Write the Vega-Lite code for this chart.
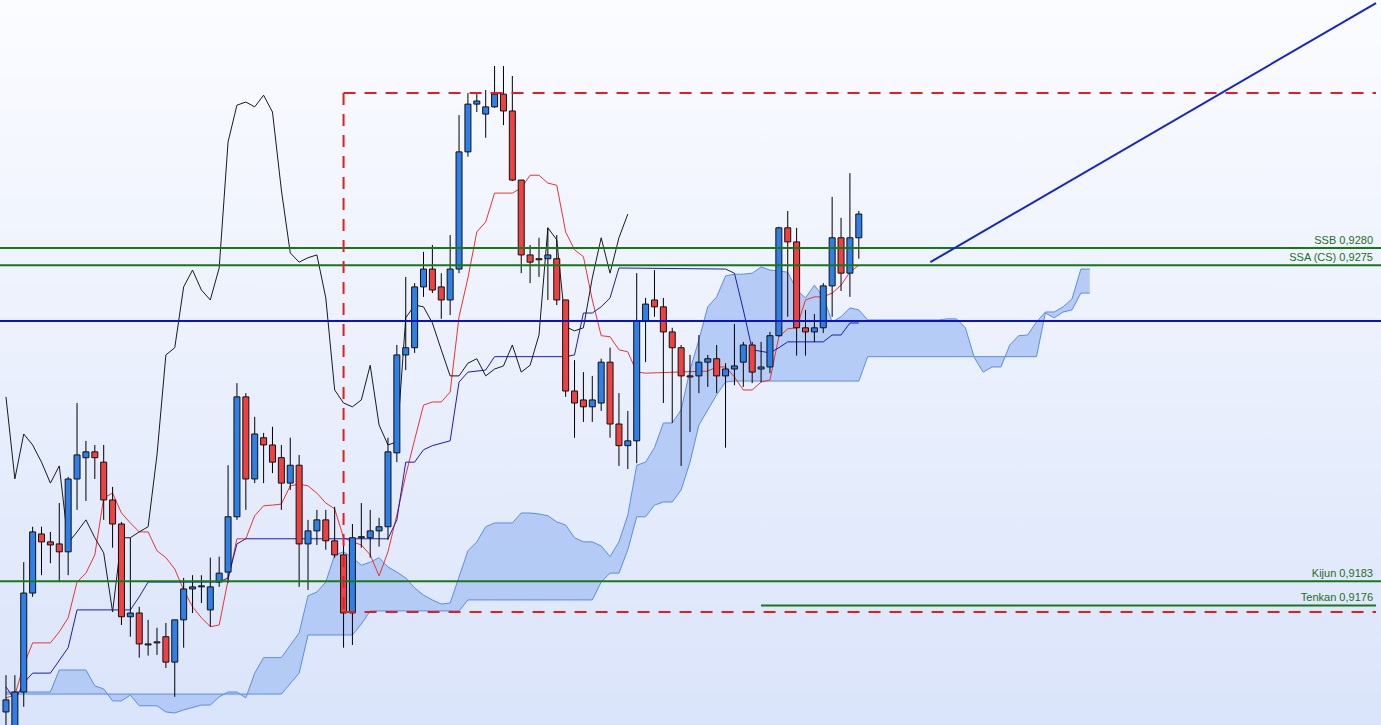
{
 "$schema": "https://vega.github.io/schema/vega-lite/v6.json",
 "width": 1381, "height": 725,
 "autosize": {"type": "fit", "contains": "padding"},
 "padding": 0,
 "background": "#eaf0fc",
 "config": {"view": {"stroke": null, "fill": {"gradient": "linear", "x1": 0, "y1": 0, "x2": 0, "y2": 1, "stops": [{"offset": 0, "color": "#fbfcff"}, {"offset": 1, "color": "#dae4fa"}]}}},
 "datasets": {
  "candles": [
   {"i":0,"o":0.91450,"h":0.91557,"l":0.91383,"c":0.91485},
   {"i":1,"o":0.91369,"h":0.91557,"l":0.91354,"c":0.91508},
   {"i":2,"o":0.91508,"h":0.91886,"l":0.91465,"c":0.91796},
   {"i":3,"o":0.91796,"h":0.91989,"l":0.91785,"c":0.91974},
   {"i":4,"o":0.91968,"h":0.91989,"l":0.91848,"c":0.91945},
   {"i":5,"o":0.91945,"h":0.91974,"l":0.91883,"c":0.91936},
   {"i":6,"o":0.91939,"h":0.92058,"l":0.91828,"c":0.91916},
   {"i":7,"o":0.91916,"h":0.92134,"l":0.91848,"c":0.92128},
   {"i":8,"o":0.92128,"h":0.92349,"l":0.92038,"c":0.92198},
   {"i":9,"o":0.92190,"h":0.92239,"l":0.92064,"c":0.92207},
   {"i":10,"o":0.92207,"h":0.92227,"l":0.92128,"c":0.92190},
   {"i":11,"o":0.92177,"h":0.92227,"l":0.92009,"c":0.92067},
   {"i":12,"o":0.92067,"h":0.92105,"l":0.91928,"c":0.91997},
   {"i":13,"o":0.91997,"h":0.92003,"l":0.91703,"c":0.91727},
   {"i":14,"o":0.91727,"h":0.91957,"l":0.91669,"c":0.91738},
   {"i":15,"o":0.91738,"h":0.91756,"l":0.91608,"c":0.91648},
   {"i":16,"o":0.91648,"h":0.91718,"l":0.91614,"c":0.91645},
   {"i":17,"o":0.91654,"h":0.91695,"l":0.91616,"c":0.91651},
   {"i":18,"o":0.91669,"h":0.91709,"l":0.91578,"c":0.91595},
   {"i":19,"o":0.91595,"h":0.91718,"l":0.91494,"c":0.91718},
   {"i":20,"o":0.91718,"h":0.91840,"l":0.91637,"c":0.91808},
   {"i":21,"o":0.91808,"h":0.91848,"l":0.91738,"c":0.91814},
   {"i":22,"o":0.91814,"h":0.91848,"l":0.91767,"c":0.91817},
   {"i":23,"o":0.91747,"h":0.91899,"l":0.91698,"c":0.91814},
   {"i":24,"o":0.91828,"h":0.91902,"l":0.91814,"c":0.91854},
   {"i":25,"o":0.91857,"h":0.92168,"l":0.91825,"c":0.92018},
   {"i":26,"o":0.92018,"h":0.92407,"l":0.92009,"c":0.92367},
   {"i":27,"o":0.92367,"h":0.92378,"l":0.92038,"c":0.92128},
   {"i":28,"o":0.92128,"h":0.92309,"l":0.92116,"c":0.92259},
   {"i":29,"o":0.92248,"h":0.92262,"l":0.92116,"c":0.92227},
   {"i":30,"o":0.92227,"h":0.92280,"l":0.92145,"c":0.92177},
   {"i":31,"o":0.92190,"h":0.92227,"l":0.92038,"c":0.92116},
   {"i":32,"o":0.92116,"h":0.92248,"l":0.92096,"c":0.92168},
   {"i":33,"o":0.92168,"h":0.92198,"l":0.91814,"c":0.91939},
   {"i":34,"o":0.91939,"h":0.92009,"l":0.91805,"c":0.91977},
   {"i":35,"o":0.91977,"h":0.92038,"l":0.91936,"c":0.92009},
   {"i":36,"o":0.92009,"h":0.92038,"l":0.91922,"c":0.91948},
   {"i":37,"o":0.91948,"h":0.92047,"l":0.91899,"c":0.91907},
   {"i":38,"o":0.91907,"h":0.91942,"l":0.91637,"c":0.91738},
   {"i":39,"o":0.91738,"h":0.91997,"l":0.91645,"c":0.91957},
   {"i":40,"o":0.91957,"h":0.92058,"l":0.91928,"c":0.91960},
   {"i":41,"o":0.91957,"h":0.92038,"l":0.91899,"c":0.91977},
   {"i":42,"o":0.91977,"h":0.92015,"l":0.91931,"c":0.91989},
   {"i":43,"o":0.91989,"h":0.92248,"l":0.91951,"c":0.92207},
   {"i":44,"o":0.92204,"h":0.92518,"l":0.92177,"c":0.92489},
   {"i":45,"o":0.92489,"h":0.92716,"l":0.92445,"c":0.92510},
   {"i":46,"o":0.92510,"h":0.92698,"l":0.92495,"c":0.92687},
   {"i":47,"o":0.92687,"h":0.92789,"l":0.92658,"c":0.92739},
   {"i":48,"o":0.92739,"h":0.92809,"l":0.92669,"c":0.92678},
   {"i":49,"o":0.92687,"h":0.92727,"l":0.92594,"c":0.92649},
   {"i":50,"o":0.92649,"h":0.92838,"l":0.92605,"c":0.92739},
   {"i":51,"o":0.92739,"h":0.93187,"l":0.92727,"c":0.93080},
   {"i":52,"o":0.93080,"h":0.93251,"l":0.93066,"c":0.93219},
   {"i":53,"o":0.93219,"h":0.93251,"l":0.93196,"c":0.93228},
   {"i":54,"o":0.93190,"h":0.93260,"l":0.93121,"c":0.93211},
   {"i":55,"o":0.93211,"h":0.93330,"l":0.93208,"c":0.93248},
   {"i":56,"o":0.93248,"h":0.93330,"l":0.93158,"c":0.93199},
   {"i":57,"o":0.93199,"h":0.93301,"l":0.92995,"c":0.92998},
   {"i":58,"o":0.92998,"h":0.92998,"l":0.92727,"c":0.92780},
   {"i":59,"o":0.92780,"h":0.92809,"l":0.92698,"c":0.92759},
   {"i":60,"o":0.92769,"h":0.92830,"l":0.92716,"c":0.92766},
   {"i":61,"o":0.92769,"h":0.92859,"l":0.92649,"c":0.92780},
   {"i":62,"o":0.92769,"h":0.92838,"l":0.92634,"c":0.92649},
   {"i":63,"o":0.92649,"h":0.92649,"l":0.92367,"c":0.92384},
   {"i":64,"o":0.92384,"h":0.92474,"l":0.92248,"c":0.92349},
   {"i":65,"o":0.92358,"h":0.92439,"l":0.92294,"c":0.92338},
   {"i":66,"o":0.92338,"h":0.92428,"l":0.92294,"c":0.92358},
   {"i":67,"o":0.92349,"h":0.92478,"l":0.92326,"c":0.92468},
   {"i":68,"o":0.92468,"h":0.92510,"l":0.92248,"c":0.92288},
   {"i":69,"o":0.92288,"h":0.92378,"l":0.92166,"c":0.92225},
   {"i":70,"o":0.92225,"h":0.92326,"l":0.92157,"c":0.92239},
   {"i":71,"o":0.92239,"h":0.92727,"l":0.92174,"c":0.92588},
   {"i":72,"o":0.92588,"h":0.92655,"l":0.92468,"c":0.92637},
   {"i":73,"o":0.92649,"h":0.92736,"l":0.92600,"c":0.92629},
   {"i":74,"o":0.92629,"h":0.92655,"l":0.92349,"c":0.92556},
   {"i":75,"o":0.92556,"h":0.92568,"l":0.92291,"c":0.92510},
   {"i":76,"o":0.92510,"h":0.92518,"l":0.92166,"c":0.92428},
   {"i":77,"o":0.92428,"h":0.92489,"l":0.92265,"c":0.92425},
   {"i":78,"o":0.92428,"h":0.92547,"l":0.92378,"c":0.92468},
   {"i":79,"o":0.92468,"h":0.92489,"l":0.92396,"c":0.92478},
   {"i":80,"o":0.92478,"h":0.92518,"l":0.92378,"c":0.92428},
   {"i":81,"o":0.92428,"h":0.92465,"l":0.92219,"c":0.92448},
   {"i":82,"o":0.92448,"h":0.92579,"l":0.92401,"c":0.92457},
   {"i":83,"o":0.92468,"h":0.92527,"l":0.92396,"c":0.92518},
   {"i":84,"o":0.92518,"h":0.92527,"l":0.92407,"c":0.92439},
   {"i":85,"o":0.92448,"h":0.92527,"l":0.92410,"c":0.92454},
   {"i":86,"o":0.92454,"h":0.92556,"l":0.92436,"c":0.92545},
   {"i":87,"o":0.92545,"h":0.92862,"l":0.92542,"c":0.92859},
   {"i":88,"o":0.92859,"h":0.92908,"l":0.92600,"c":0.92818},
   {"i":89,"o":0.92818,"h":0.92859,"l":0.92487,"c":0.92568},
   {"i":90,"o":0.92568,"h":0.92620,"l":0.92487,"c":0.92556},
   {"i":91,"o":0.92556,"h":0.92608,"l":0.92527,"c":0.92568},
   {"i":92,"o":0.92568,"h":0.92698,"l":0.92553,"c":0.92690},
   {"i":93,"o":0.92690,"h":0.92949,"l":0.92600,"c":0.92830},
   {"i":94,"o":0.92830,"h":0.92888,"l":0.92675,"c":0.92727},
   {"i":95,"o":0.92727,"h":0.93018,"l":0.92658,"c":0.92830},
   {"i":96,"o":0.92830,"h":0.92908,"l":0.92769,"c":0.92899}
  ],
  "cloud": [
   {"i":0,"a":0.91508,"b":0.91502},{"i":5,"a":0.91508,"b":0.91502},{"i":6,"a":0.91572,"b":0.91502},
   {"i":9,"a":0.91572,"b":0.91502},{"i":10,"a":0.91526,"b":0.91502},{"i":11,"a":0.91517,"b":0.91502},
   {"i":12,"a":0.91482,"b":0.91502},{"i":13,"a":0.91482,"b":0.91502},{"i":14,"a":0.91499,"b":0.91502},
   {"i":15,"a":0.91468,"b":0.91502},{"i":17,"a":0.91468,"b":0.91502},{"i":18,"a":0.91450,"b":0.91502},
   {"i":19,"a":0.91447,"b":0.91502},{"i":20,"a":0.91456,"b":0.91502},{"i":22,"a":0.91470,"b":0.91502},
   {"i":23,"a":0.91470,"b":0.91502},{"i":24,"a":0.91494,"b":0.91502},{"i":25,"a":0.91508,"b":0.91502},
   {"i":26,"a":0.91508,"b":0.91502},{"i":27,"a":0.91491,"b":0.91502},{"i":28,"a":0.91563,"b":0.91502},
   {"i":29,"a":0.91608,"b":0.91502},{"i":31,"a":0.91608,"b":0.91502},{"i":33,"a":0.91680,"b":0.91563},
   {"i":34,"a":0.91788,"b":0.91674},{"i":35,"a":0.91799,"b":0.91674},{"i":36,"a":0.91828,"b":0.91674},
   {"i":37,"a":0.91907,"b":0.91674},{"i":38,"a":0.91916,"b":0.91674},{"i":39,"a":0.91899,"b":0.91674},
   {"i":40,"a":0.91877,"b":0.91706},{"i":41,"a":0.91886,"b":0.91744},{"i":42,"a":0.91899,"b":0.91744},
   {"i":43,"a":0.91872,"b":0.91744},{"i":44,"a":0.91857,"b":0.91744},{"i":45,"a":0.91840,"b":0.91744},
   {"i":46,"a":0.91811,"b":0.91744},{"i":47,"a":0.91790,"b":0.91744},{"i":48,"a":0.91776,"b":0.91744},
   {"i":49,"a":0.91764,"b":0.91744},{"i":50,"a":0.91767,"b":0.91744},{"i":51,"a":0.91843,"b":0.91744},
   {"i":52,"a":0.91919,"b":0.91776},{"i":53,"a":0.91945,"b":0.91776},{"i":54,"a":0.91989,"b":0.91776},
   {"i":55,"a":0.92000,"b":0.91776},{"i":57,"a":0.92000,"b":0.91776},{"i":58,"a":0.92029,"b":0.91776},
   {"i":59,"a":0.92029,"b":0.91776},{"i":60,"a":0.92026,"b":0.91776},{"i":61,"a":0.92021,"b":0.91776},
   {"i":62,"a":0.92003,"b":0.91776},{"i":63,"a":0.91994,"b":0.91776},{"i":64,"a":0.91957,"b":0.91776},
   {"i":65,"a":0.91945,"b":0.91776},{"i":66,"a":0.91945,"b":0.91776},{"i":67,"a":0.91933,"b":0.91828},
   {"i":68,"a":0.91902,"b":0.91854},{"i":69,"a":0.91945,"b":0.91854},{"i":70,"a":0.92023,"b":0.91922},
   {"i":71,"a":0.92168,"b":0.92018},{"i":72,"a":0.92177,"b":0.92018},{"i":73,"a":0.92219,"b":0.92052},
   {"i":74,"a":0.92291,"b":0.92061},{"i":75,"a":0.92291,"b":0.92061},{"i":76,"a":0.92329,"b":0.92096},
   {"i":77,"a":0.92445,"b":0.92177},{"i":78,"a":0.92533,"b":0.92285},{"i":79,"a":0.92629,"b":0.92329},
   {"i":80,"a":0.92658,"b":0.92373},{"i":81,"a":0.92719,"b":0.92410},{"i":82,"a":0.92724,"b":0.92413},
   {"i":83,"a":0.92724,"b":0.92413},{"i":84,"a":0.92727,"b":0.92413},{"i":85,"a":0.92745,"b":0.92413},
   {"i":86,"a":0.92736,"b":0.92413},{"i":87,"a":0.92733,"b":0.92413},{"i":88,"a":0.92730,"b":0.92413},
   {"i":89,"a":0.92678,"b":0.92413},{"i":90,"a":0.92655,"b":0.92413},{"i":91,"a":0.92692,"b":0.92413},
   {"i":92,"a":0.92658,"b":0.92413},{"i":93,"a":0.92585,"b":0.92413},{"i":94,"a":0.92600,"b":0.92413},
   {"i":95,"a":0.92626,"b":0.92413},{"i":96,"a":0.92620,"b":0.92413},{"i":97,"a":0.92591,"b":0.92484},
   {"i":105,"a":0.92591,"b":0.92484},{"i":106,"a":0.92594,"b":0.92484},{"i":107,"a":0.92594,"b":0.92484},
   {"i":108,"a":0.92568,"b":0.92484},{"i":109,"a":0.92481,"b":0.92484},{"i":110,"a":0.92439,"b":0.92484},
   {"i":111,"a":0.92454,"b":0.92484},{"i":112,"a":0.92454,"b":0.92484},{"i":113,"a":0.92518,"b":0.92484},
   {"i":114,"a":0.92545,"b":0.92484},{"i":115,"a":0.92547,"b":0.92484},{"i":116,"a":0.92585,"b":0.92484},
   {"i":117,"a":0.92614,"b":0.92611},{"i":118,"a":0.92614,"b":0.92597},{"i":119,"a":0.92629,"b":0.92614},
   {"i":120,"a":0.92652,"b":0.92620},{"i":121,"a":0.92739,"b":0.92669},{"i":122,"a":0.92739,"b":0.92669}
  ],
  "tenkan": [
   {"i":0,"v":0.91491},{"i":1,"v":0.91499},{"i":2,"v":0.91586},{"i":3,"v":0.91651},{"i":5,"v":0.91651},
   {"i":6,"v":0.91683},{"i":7,"v":0.91724},{"i":8,"v":0.91828},{"i":9,"v":0.91854},{"i":10,"v":0.91907},
   {"i":11,"v":0.92073},{"i":12,"v":0.92087},{"i":13,"v":0.92029},{"i":14,"v":0.92000},{"i":15,"v":0.91974},
   {"i":16,"v":0.91974},{"i":17,"v":0.91919},{"i":18,"v":0.91899},{"i":19,"v":0.91866},{"i":20,"v":0.91805},
   {"i":21,"v":0.91756},{"i":22,"v":0.91724},{"i":23,"v":0.91698},{"i":24,"v":0.91703},{"i":25,"v":0.91834},
   {"i":26,"v":0.91954},{"i":27,"v":0.91954},{"i":28,"v":0.92021},{"i":29,"v":0.92050},{"i":30,"v":0.92052},
   {"i":31,"v":0.92055},{"i":32,"v":0.92108},{"i":33,"v":0.92113},{"i":34,"v":0.92108},{"i":35,"v":0.92087},
   {"i":36,"v":0.92058},{"i":37,"v":0.92041},{"i":38,"v":0.91957},{"i":39,"v":0.91945},{"i":40,"v":0.91936},
   {"i":41,"v":0.91907},{"i":42,"v":0.91846},{"i":43,"v":0.91916},{"i":44,"v":0.92023},{"i":45,"v":0.92139},
   {"i":46,"v":0.92242},{"i":47,"v":0.92343},{"i":48,"v":0.92352},{"i":49,"v":0.92352},{"i":50,"v":0.92381},
   {"i":51,"v":0.92600},{"i":52,"v":0.92713},{"i":53,"v":0.92847},{"i":54,"v":0.92876},{"i":55,"v":0.92960},
   {"i":57,"v":0.92960},{"i":58,"v":0.92975},{"i":59,"v":0.93012},{"i":60,"v":0.93012},{"i":61,"v":0.92989},
   {"i":62,"v":0.92983},{"i":63,"v":0.92847},{"i":64,"v":0.92795},{"i":65,"v":0.92775},{"i":66,"v":0.92649},
   {"i":67,"v":0.92545},{"i":68,"v":0.92542},{"i":69,"v":0.92504},{"i":70,"v":0.92498},{"i":71,"v":0.92439},
   {"i":72,"v":0.92436},{"i":79,"v":0.92442},{"i":80,"v":0.92454},{"i":81,"v":0.92454},{"i":82,"v":0.92425},
   {"i":83,"v":0.92387},{"i":84,"v":0.92387},{"i":85,"v":0.92410},{"i":86,"v":0.92416},{"i":87,"v":0.92542},
   {"i":88,"v":0.92565},{"i":89,"v":0.92568},{"i":90,"v":0.92649},{"i":91,"v":0.92658},{"i":92,"v":0.92658},
   {"i":93,"v":0.92669},{"i":94,"v":0.92692},{"i":95,"v":0.92730},{"i":96,"v":0.92750}
  ],
  "kijun": [
   {"i":0,"v":0.91523},{"i":1,"v":0.91485},{"i":2,"v":0.91534},{"i":3,"v":0.91563},{"i":5,"v":0.91563},
   {"i":7,"v":0.91637},{"i":8,"v":0.91747},{"i":14,"v":0.91747},{"i":15,"v":0.91785},{"i":16,"v":0.91828},
   {"i":24,"v":0.91828},{"i":25,"v":0.91840},{"i":26,"v":0.91939},{"i":27,"v":0.91954},{"i":43,"v":0.91954},
   {"i":44,"v":0.92009},{"i":45,"v":0.92177},{"i":46,"v":0.92177},{"i":47,"v":0.92213},{"i":48,"v":0.92225},
   {"i":50,"v":0.92239},{"i":51,"v":0.92410},{"i":52,"v":0.92439},{"i":54,"v":0.92445},{"i":55,"v":0.92484},
   {"i":63,"v":0.92484},{"i":64,"v":0.92489},{"i":65,"v":0.92611},{"i":66,"v":0.92611},{"i":67,"v":0.92629},
   {"i":68,"v":0.92655},{"i":69,"v":0.92742},{"i":81,"v":0.92739},{"i":82,"v":0.92727},{"i":83,"v":0.92620},
   {"i":84,"v":0.92504},{"i":86,"v":0.92495},{"i":87,"v":0.92510},{"i":88,"v":0.92527},{"i":92,"v":0.92527},
   {"i":93,"v":0.92547},{"i":94,"v":0.92547},{"i":95,"v":0.92582},{"i":96,"v":0.92582}
  ],
  "chikou": [
   {"i":0,"v":0.92367},{"i":1,"v":0.92128},{"i":2,"v":0.92259},{"i":3,"v":0.92227},{"i":4,"v":0.92177},
   {"i":5,"v":0.92116},{"i":6,"v":0.92166},{"i":7,"v":0.91942},{"i":8,"v":0.91974},{"i":9,"v":0.92009},
   {"i":10,"v":0.91957},{"i":11,"v":0.91913},{"i":12,"v":0.91741},{"i":13,"v":0.91957},{"i":14,"v":0.91957},
   {"i":15,"v":0.91974},{"i":16,"v":0.91989},{"i":17,"v":0.92198},{"i":18,"v":0.92489},{"i":19,"v":0.92510},
   {"i":20,"v":0.92687},{"i":21,"v":0.92736},{"i":22,"v":0.92678},{"i":23,"v":0.92649},{"i":24,"v":0.92742},
   {"i":25,"v":0.93109},{"i":26,"v":0.93216},{"i":27,"v":0.93225},{"i":28,"v":0.93211},{"i":29,"v":0.93245},
   {"i":30,"v":0.93196},{"i":31,"v":0.92969},{"i":32,"v":0.92786},{"i":33,"v":0.92759},{"i":34,"v":0.92772},
   {"i":35,"v":0.92780},{"i":36,"v":0.92655},{"i":37,"v":0.92387},{"i":38,"v":0.92349},{"i":39,"v":0.92338},
   {"i":40,"v":0.92358},{"i":41,"v":0.92459},{"i":42,"v":0.92285},{"i":43,"v":0.92227},{"i":44,"v":0.92236},
   {"i":45,"v":0.92597},{"i":46,"v":0.92634},{"i":47,"v":0.92629},{"i":48,"v":0.92582},{"i":49,"v":0.92504},
   {"i":50,"v":0.92428},{"i":51,"v":0.92428},{"i":52,"v":0.92465},{"i":53,"v":0.92478},{"i":54,"v":0.92428},
   {"i":55,"v":0.92448},{"i":56,"v":0.92457},{"i":57,"v":0.92518},{"i":58,"v":0.92439},{"i":59,"v":0.92459},
   {"i":60,"v":0.92547},{"i":61,"v":0.92859},{"i":62,"v":0.92824},{"i":63,"v":0.92571},{"i":64,"v":0.92559},
   {"i":65,"v":0.92568},{"i":66,"v":0.92713},{"i":67,"v":0.92830},{"i":68,"v":0.92727},{"i":69,"v":0.92830},
   {"i":70,"v":0.92899}
  ],
  "greenLevels": [
   {"v":0.9280,"t":"SSB 0,9280","x":154.22},
   {"v":0.9275,"t":"SSA (CS) 0,9275","x":154.22},
   {"v":0.9183,"t":"Kijun 0,9183","x":154.22},
   {"v":0.9176,"t":"Tenkan 0,9176","x":154.22}
  ],
  "greenFull": [{"v":0.9280},{"v":0.9275},{"v":0.9183}],
  "greenPart": [{"x1":85,"x2":154.22,"y1":0.9176,"y2":0.9176}],
  "blueLevel": [{"v":0.92588}],
  "redDash": [
   {"x1":38,"x2":38,"y1":0.93251,"y2":0.91741},
   {"x1":38,"x2":154.22,"y1":0.93251,"y2":0.93251},
   {"x1":38,"x2":154.22,"y1":0.91741,"y2":0.91741}
  ],
  "diag": [{"x1":104.05,"x2":154.22,"y1":0.92759,"y2":0.93513}]
 },
 "layer": [
  {"data":{"name":"cloud"},"mark":{"type":"area","fill":"#afc8f5","opacity":0.9,"clip":true},
   "encoding":{"x":{"field":"i","type":"quantitative","scale":{"domain":[-0.11,154.22],"nice":false,"zero":false},"axis":null},
    "y":{"field":"a","type":"quantitative","scale":{"domain":[0.91412,0.93522],"nice":false,"zero":false},"axis":null},
    "y2":{"field":"b"}}},
  {"data":{"name":"cloud"},"mark":{"type":"line","stroke":"#5b8de4","strokeWidth":1,"clip":true},
   "encoding":{"x":{"field":"i","type":"quantitative","axis":null},"y":{"field":"a","type":"quantitative","axis":null}}},
  {"data":{"name":"cloud"},"mark":{"type":"line","stroke":"#5b8de4","strokeWidth":1,"clip":true},
   "encoding":{"x":{"field":"i","type":"quantitative","axis":null},"y":{"field":"b","type":"quantitative","axis":null}}},
  {"data":{"name":"tenkan"},"mark":{"type":"line","stroke":"#e83434","strokeWidth":1,"clip":true},
   "encoding":{"x":{"field":"i","type":"quantitative","axis":null},"y":{"field":"v","type":"quantitative","axis":null}}},
  {"data":{"name":"kijun"},"mark":{"type":"line","stroke":"#1c1cb4","strokeWidth":1,"clip":true},
   "encoding":{"x":{"field":"i","type":"quantitative","axis":null},"y":{"field":"v","type":"quantitative","axis":null}}},
  {"data":{"name":"chikou"},"mark":{"type":"line","stroke":"#1a1a1a","strokeWidth":1,"clip":true},
   "encoding":{"x":{"field":"i","type":"quantitative","axis":null},"y":{"field":"v","type":"quantitative","axis":null}}},
  {"data":{"name":"candles"},"mark":{"type":"rule","stroke":"#000000","strokeWidth":1,"clip":true},
   "encoding":{"x":{"field":"i","type":"quantitative","axis":null},"y":{"field":"l","type":"quantitative","axis":null},"y2":{"field":"h"}}},
  {"data":{"name":"candles"},"mark":{"type":"bar","width":6,"stroke":"#111111","strokeWidth":1,"clip":true},
   "encoding":{"x":{"field":"i","type":"quantitative","axis":null},"y":{"field":"o","type":"quantitative","axis":null},"y2":{"field":"c"},
    "fill":{"condition":{"test":"datum.c >= datum.o","value":"#2e7fe6"},"value":"#ee4242"}}},
  {"data":{"name":"greenFull"},"mark":{"type":"rule","stroke":"#17781a","strokeWidth":2,"clip":true},
   "encoding":{"y":{"field":"v","type":"quantitative","axis":null}}},
  {"data":{"name":"greenPart"},"mark":{"type":"rule","stroke":"#17781a","strokeWidth":2,"clip":true},
   "encoding":{"x":{"field":"x1","type":"quantitative","axis":null},"x2":{"field":"x2"},"y":{"field":"y1","type":"quantitative","axis":null},"y2":{"field":"y2"}}},
  {"data":{"name":"blueLevel"},"mark":{"type":"rule","stroke":"#0a12cc","strokeWidth":2,"clip":true},
   "encoding":{"y":{"field":"v","type":"quantitative","axis":null}}},
  {"data":{"name":"redDash"},"mark":{"type":"rule","stroke":"#e02020","strokeWidth":2,"strokeDash":[12,9],"clip":true},
   "encoding":{"x":{"field":"x1","type":"quantitative","axis":null},"x2":{"field":"x2"},"y":{"field":"y1","type":"quantitative","axis":null},"y2":{"field":"y2"}}},
  {"data":{"name":"diag"},"mark":{"type":"rule","stroke":"#1424c8","strokeWidth":2,"clip":true},
   "encoding":{"x":{"field":"x1","type":"quantitative","axis":null},"x2":{"field":"x2"},"y":{"field":"y1","type":"quantitative","axis":null},"y2":{"field":"y2"}}},
  {"data":{"name":"greenLevels"},"mark":{"type":"text","align":"right","baseline":"bottom","dx":-3,"dy":-2,"font":"Liberation Sans","fontSize":11,"fill":"#1d6f1d","clip":true},
   "encoding":{"x":{"field":"x","type":"quantitative","axis":null},"y":{"field":"v","type":"quantitative","axis":null},"text":{"field":"t"}}}
 ]
}
